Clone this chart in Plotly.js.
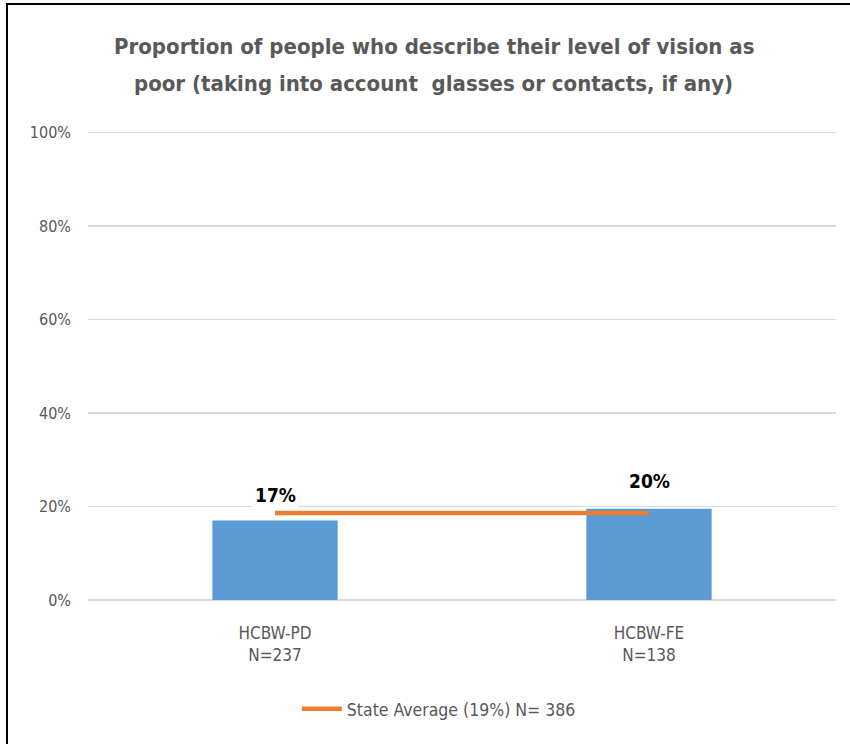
<!DOCTYPE html>
<html>
<head>
<meta charset="utf-8">
<script src="https://cdn.plot.ly/plotly-3.0.1.min.js"></script>
<style>
  html, body { margin: 0; padding: 0; background: #fff; overflow: hidden; }
  #chart { width: 850px; height: 744px; }
  #frame { position: absolute; left: 6px; top: 3px; width: 900px; height: 800px;
           border-left: 2px solid #000; border-top: 2px solid #000; pointer-events: none; }
</style>
</head>
<body>
<div id="chart"></div>
<div id="frame"></div>
<script>
const categories = ["HCBW-PD<br>N=237", "HCBW-FE<br>N=138"];
const barValues = [0.17, 0.195];
const barLabels = ["17%", "20%"];
const stateAverage = [0.186, 0.186];
const stateName = "State Average (19%) N= 386";
const titleLines = [
  "Proportion of people who describe their level of vision as",
  "poor (taking into account  glasses or contacts, if any)"
];
const yTicks = [0, 0.2, 0.4, 0.6, 0.8, 1.0];
const yTickText = ["0%", "20%", "40%", "60%", "80%", "100%"];

const FONT = '"Liberation Sans Narrow", "DejaVu Sans Condensed", "Liberation Sans", sans-serif';

const data = [
  {
    type: "bar",
    x: categories,
    y: barValues,
    width: 0.335,
    marker: { color: "#5B9BD5" },
    showlegend: false,
    hoverinfo: "skip"
  },
  {
    type: "scatter",
    mode: "lines",
    x: categories,
    y: stateAverage,
    name: stateName,
    line: { color: "#ED7D31", width: 4.5 },
    hoverinfo: "skip"
  }
];

const annotations = categories.map((c, i) => ({
  x: c, y: barValues[i], xref: "x", yref: "y",
  text: "<b>" + barLabels[i] + "</b>",
  showarrow: false,
  yanchor: "bottom", yshift: i === 0 ? 12 : 15,
  bgcolor: "#ffffff",
  borderpad: i === 0 ? 2 : 1,
  font: { family: FONT, size: 19, color: "#000" }
}));

// title, two lines with the reference's wider line spacing
titleLines.forEach((t, i) => {
  annotations.push({
    text: "<b>" + t + "</b>",
    xref: "paper", yref: "paper",
    x: 0.462, y: 1 + (i === 0 ? 84 : 48) / 469,
    xanchor: "center", yanchor: "middle",
    showarrow: false,
    font: { family: FONT, size: 22, color: "#595959" }
  });
});

const layout = {
  width: 850, height: 744,
  margin: { l: 88, r: 14, t: 131, b: 144 },
  paper_bgcolor: "#fff", plot_bgcolor: "#fff",
  xaxis: {
    range: [-0.5, 1.5],
    showgrid: false, zeroline: false, showline: false,
    ticks: "",
    ticklabelstandoff: 21,
    tickfont: { family: FONT, size: 17, color: "#595959" },
    fixedrange: true
  },
  yaxis: {
    range: [0, 1.003],
    tickvals: yTicks, ticktext: yTickText,
    showgrid: true, gridcolor: "#D9D9D9", gridwidth: 1.5,
    zeroline: true, zerolinecolor: "#D9D9D9", zerolinewidth: 1.5,
    showline: false, ticks: "",
    ticklabelstandoff: 16,
    tickfont: { family: FONT, size: 16, color: "#595959" },
    fixedrange: true
  },
  legend: {
    orientation: "h", x: 0.469, xanchor: "center", y: -0.232, yanchor: "middle",
    font: { family: FONT, size: 17.5, color: "#595959" },
    itemwidth: 40
  },
  annotations: annotations,
  bargap: 0.665
};

Plotly.newPlot("chart", data, layout, { displayModeBar: false, staticPlot: true });
</script>
</body>
</html>
